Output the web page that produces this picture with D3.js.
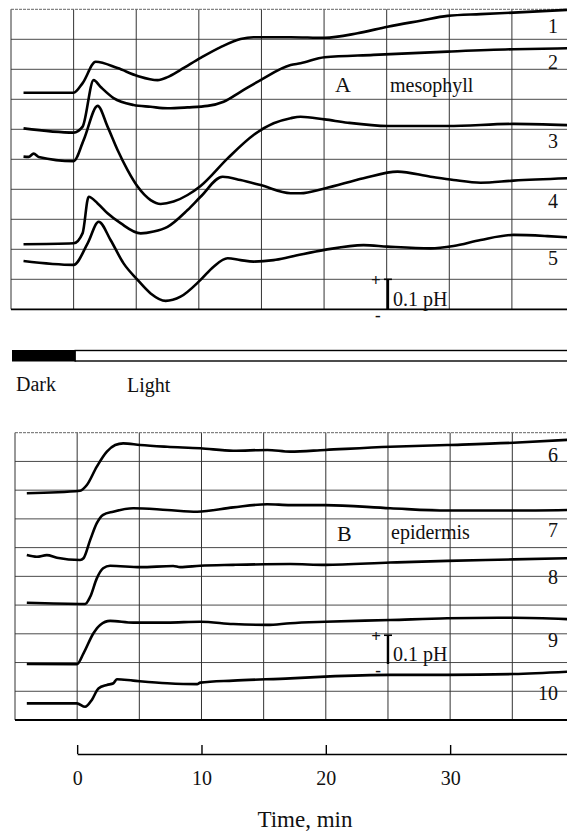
<!DOCTYPE html>
<html>
<head>
<meta charset="utf-8">
<script src="https://d3js.org/d3.v7.min.js"></script>
<style>
  body { margin: 0; background: #fff; }
  svg { display: block; }
  text { font-family: "Liberation Serif", "Times New Roman", serif; fill: #111; }
</style>
</head>
<body>
<div id="container"></div>
<script>
/* DATA: time (min) vs relative pH (chart divisions, 1 div = 0.1 pH) */
const tracesA = ["1", "2", "3", "4", "5"];
const tracesB = ["6", "7", "8", "9", "10"];
const timeTicks = [0, 10, 20, 30];

const trace1 = [[-4, 7.22], [0, 7.22], [0.72, 7.54], [1.76, 8.25], [3.51, 8.04], [5.11, 7.78], [6.71, 7.64], [7.5, 7.74], [8.54, 7.98], [10.14, 8.38], [11.74, 8.74], [13.33, 9.01], [14.37, 9.07], [17.33, 9.07], [20.04, 9.05], [22.67, 9.2], [25.07, 9.42], [27.7, 9.62], [29.86, 9.78], [32.5, 9.84], [35.13, 9.89], [39.44, 9.98]];
const trace2 = [[-4, 6.03], [0, 5.89], [0.72, 6.09], [1.6, 7.64], [2.16, 7.41], [3.19, 7.04], [4.79, 6.81], [6.15, 6.75], [7.5, 6.7], [9.1, 6.73], [10.7, 6.78], [11.98, 6.92], [13.33, 7.25], [14.93, 7.64], [17.33, 8.14], [18.12, 8.2], [20.04, 8.4], [23.95, 8.48], [29.86, 8.59], [35.13, 8.67], [39.44, 8.7]];
const trace3 = [[-4, 5.09], [-3.59, 5.08], [-3.19, 5.19], [-2.79, 5.08], [0, 4.94], [0.8, 5.64], [1.92, 6.78], [2.71, 6.09], [3.51, 5.31], [4.31, 4.64], [5.11, 4.09], [6.15, 3.64], [6.95, 3.51], [7.98, 3.59], [9.1, 3.81], [10.14, 4.11], [12.3, 5.03], [14.37, 5.81], [15.97, 6.2], [17.33, 6.37], [18.12, 6.42], [20.04, 6.33], [21.88, 6.22], [25.07, 6.11], [29.86, 6.11], [35.13, 6.18], [39.44, 6.14]];
const trace4 = [[-4, 2.17], [0, 2.2], [0.72, 2.54], [1.2, 3.75], [1.92, 3.53], [2.71, 3.2], [3.75, 2.87], [5.35, 2.53], [6.39, 2.59], [7.5, 2.75], [9.1, 3.31], [10.14, 3.75], [11.9, 4.42], [13.33, 4.31], [14.93, 4.14], [17.33, 3.87], [18.12, 3.87], [20.04, 4.03], [23.15, 4.37], [25.87, 4.59], [28.5, 4.42], [30.34, 4.31], [32.5, 4.22], [35.13, 4.29], [39.44, 4.37]];
const trace5 = [[-4, 1.61], [0, 1.48], [1.12, 2.2], [2.0, 2.92], [2.95, 2.31], [3.99, 1.53], [5.11, 0.98], [6.15, 0.53], [7.35, 0.28], [8.54, 0.42], [10.14, 0.98], [11.18, 1.42], [12.3, 1.7], [13.33, 1.64], [14.37, 1.59], [15.97, 1.64], [17.33, 1.75], [20.04, 1.98], [23.15, 2.14], [25.07, 2.09], [28.5, 2.03], [30.34, 2.11], [32.5, 2.31], [35.13, 2.48], [37.84, 2.44], [39.44, 2.4]];

const trace6 = [[-4.05, 7.89], [0.24, 7.98], [0.78, 8.18], [1.58, 8.82], [2.39, 9.34], [3.06, 9.57], [3.7, 9.63], [5.07, 9.57], [7.24, 9.51], [9.9, 9.46], [12.55, 9.37], [15.29, 9.4], [17.14, 9.34], [19.95, 9.4], [25.18, 9.51], [29.77, 9.57], [35.08, 9.65], [39.42, 9.75]];
const trace7 = [[-4.05, 5.74], [-3.24, 5.68], [-2.44, 5.74], [-1.63, 5.65], [0.24, 5.57], [0.51, 5.63], [1.05, 6.27], [1.58, 6.85], [2.09, 7.14], [2.9, 7.25], [4.51, 7.37], [7.24, 7.31], [9.65, 7.25], [12.55, 7.4], [15.29, 7.51], [17.14, 7.48], [19.95, 7.48], [25.18, 7.37], [29.77, 7.29], [35.08, 7.29], [39.42, 7.31]];
const trace8 = [[-4.05, 4.08], [0.64, 4.04], [1.05, 4.29], [1.58, 4.93], [2.09, 5.28], [2.65, 5.37], [5.07, 5.32], [7.72, 5.36], [8.29, 5.32], [9.9, 5.37], [12.55, 5.4], [17.14, 5.43], [19.95, 5.4], [25.18, 5.48], [29.77, 5.54], [35.08, 5.59], [39.42, 5.63]];
const trace9 = [[-4.05, 1.95], [-0.02, 1.94], [0.51, 2.32], [1.31, 3.02], [1.85, 3.31], [2.65, 3.45], [4.51, 3.39], [7.24, 3.39], [9.9, 3.42], [12.55, 3.34], [15.29, 3.31], [17.14, 3.37], [19.95, 3.42], [25.18, 3.48], [29.77, 3.54], [35.08, 3.56], [39.42, 3.51]];
const trace10 = [[-4.05, 0.58], [-0.02, 0.58], [0.64, 0.46], [1.18, 0.7], [1.71, 1.1], [2.39, 1.22], [2.92, 1.28], [3.19, 1.42], [4.51, 1.37], [7.24, 1.28], [9.65, 1.25], [9.9, 1.3], [12.55, 1.37], [17.14, 1.45], [19.95, 1.51], [25.18, 1.57], [29.77, 1.57], [35.08, 1.6], [39.42, 1.68]];

/* CONSTANTS AND GLOBALS */
const width = 567, height = 834;
const tMin = -5, tMax = 39.4;

const svg = d3.select("#container")
  .append("svg")
  .attr("width", width)
  .attr("height", height);

// SCALES
const xA = d3.scaleLinear().domain([tMin, tMax]).range([11, 567]);
const yA = d3.scaleLinear().domain([0, 10]).range([309.3, 9.3]);
const xB = d3.scaleLinear().domain([tMin, tMax]).range([15, 567]);
const yB = d3.scaleLinear().domain([0, 10]).range([720, 432.7]);

// label placement (in chart divisions) for each trace number
const labelRowA = [9.2, 8.0, 5.37, 3.37, 1.48];
const labelRowB = [8.98, 6.36, 4.73, 2.55, 0.7];

function drawPanel(opts) {
  const { x, y, traces, names, labelRow } = opts;
  const g = svg.append("g");

  // chart paper grid
  g.selectAll("line.h")
    .data(d3.range(1, 10))
    .join("line")
    .attr("x1", x(tMin)).attr("x2", x(tMax))
    .attr("y1", d => y(d)).attr("y2", d => y(d))
    .attr("stroke", "#4a4a4a")
    .attr("stroke-width", 1);

  g.selectAll("line.v")
    .data(d3.range(tMin, tMax, 5))
    .join("line")
    .attr("x1", d => x(d)).attr("x2", d => x(d))
    .attr("y1", y(0)).attr("y2", y(10))
    .attr("stroke", "#333")
    .attr("stroke-width", 1);

  // top border (faint, dotted) and bottom border (solid)
  g.append("line")
    .attr("x1", x(tMin)).attr("x2", x(tMax))
    .attr("y1", y(10)).attr("y2", y(10))
    .attr("stroke", "#666")
    .attr("stroke-dasharray", "3,1");
  g.append("line")
    .attr("x1", x(tMin)).attr("x2", x(tMax))
    .attr("y1", y(0)).attr("y2", y(0))
    .attr("stroke", "#000")
    .attr("stroke-width", 1.8);

  // LINE GENERATOR
  const line = d3.line()
    .x(d => x(d[0]))
    .y(d => y(d[1]))
    .curve(d3.curveMonotoneX);

  g.selectAll("path.trace")
    .data(traces)
    .join("path")
    .attr("class", "trace")
    .attr("d", d => line(d))
    .attr("fill", "none")
    .attr("stroke", "#000")
    .attr("stroke-width", 2.6)
    .attr("stroke-linejoin", "round");

  g.selectAll("text.num")
    .data(names)
    .join("text")
    .attr("class", "num")
    .attr("x", 558)
    .attr("y", (d, i) => y(labelRow[i]))
    .attr("text-anchor", "end")
    .attr("font-size", 20)
    .text(d => d);

  return g;
}

const gA = drawPanel({ x: xA, y: yA, traces: [trace1, trace2, trace3, trace4, trace5], names: tracesA, labelRow: labelRowA });
const gB = drawPanel({ x: xB, y: yB, traces: [trace6, trace7, trace8, trace9, trace10], names: tracesB, labelRow: labelRowB });

// PANEL TITLES
gA.append("text").attr("x", 335).attr("y", 91.5).attr("font-size", 22).text("A");
gA.append("text").attr("x", 390).attr("y", 91.5).attr("font-size", 20).text("mesophyll");
gB.append("text").attr("x", 337).attr("y", 540.5).attr("font-size", 22).text("B");
gB.append("text").attr("x", 391).attr("y", 539).attr("font-size", 20).text("epidermis");

// SCALE BARS (0.1 pH = 1 division)
function scaleBar(g, x, y, t, v0) {
  const bx = x(t);
  g.append("line")
    .attr("x1", bx).attr("x2", bx)
    .attr("y1", y(v0)).attr("y2", y(v0 + 1))
    .attr("stroke", "#000").attr("stroke-width", 2.4);
  g.append("line")
    .attr("x1", bx - 4).attr("x2", bx + 4)
    .attr("y1", y(v0 + 1)).attr("y2", y(v0 + 1))
    .attr("stroke", "#000").attr("stroke-width", 1.6);
  g.append("text").attr("x", bx - 12).attr("y", y(v0 + 1) + 7)
    .attr("text-anchor", "middle").attr("font-size", 17).attr("font-weight", "bold").text("+");
  g.append("text").attr("x", bx - 10).attr("y", y(v0) + 12)
    .attr("text-anchor", "middle").attr("font-size", 17).attr("font-weight", "bold").text("-");
  g.append("text").attr("x", bx + 5).attr("y", y(v0) - 3)
    .attr("font-size", 20).text("0.1 pH");
}
scaleBar(gA, xA, yA, 25.1, 0);
scaleBar(gB, xB, yB, 25, 1.95);

// DARK / LIGHT BAR
svg.append("rect")
  .attr("x", xA(tMin) + 1).attr("y", 350)
  .attr("width", xB(0) - 2 - xA(tMin)).attr("height", 11.5)
  .attr("fill", "#000");
svg.append("rect")
  .attr("x", xB(0) - 2).attr("y", 350.5)
  .attr("width", width - xB(0) + 4).attr("height", 10.5)
  .attr("fill", "#fff")
  .attr("stroke", "#000")
  .attr("stroke-width", 1.4);
svg.append("text").attr("x", 16).attr("y", 391).attr("font-size", 20).text("Dark");
svg.append("text").attr("x", 127).attr("y", 391.5).attr("font-size", 20).text("Light");

// TIME AXIS
const xAxisScale = d3.scaleLinear().domain([0, tMax]).range([xB(0), xB(tMax)]);
const xAxis = d3.axisBottom(xAxisScale)
  .tickValues(timeTicks)
  .tickSizeInner(-9)
  .tickSizeOuter(0)
  .tickPadding(17);

const axisG = svg.append("g")
  .attr("transform", "translate(0,754)")
  .call(xAxis);
axisG.select(".domain").attr("stroke", "#000").attr("stroke-width", 1.6);
axisG.selectAll(".tick line").attr("stroke", "#000").attr("stroke-width", 1.4);
axisG.selectAll(".tick text")
  .attr("font-family", "Liberation Serif, serif")
  .attr("font-size", 20)
  .attr("fill", "#111");

svg.append("text")
  .attr("x", 305).attr("y", 827)
  .attr("text-anchor", "middle")
  .attr("font-size", 23)
  .text("Time, min");
</script>
</body>
</html>
